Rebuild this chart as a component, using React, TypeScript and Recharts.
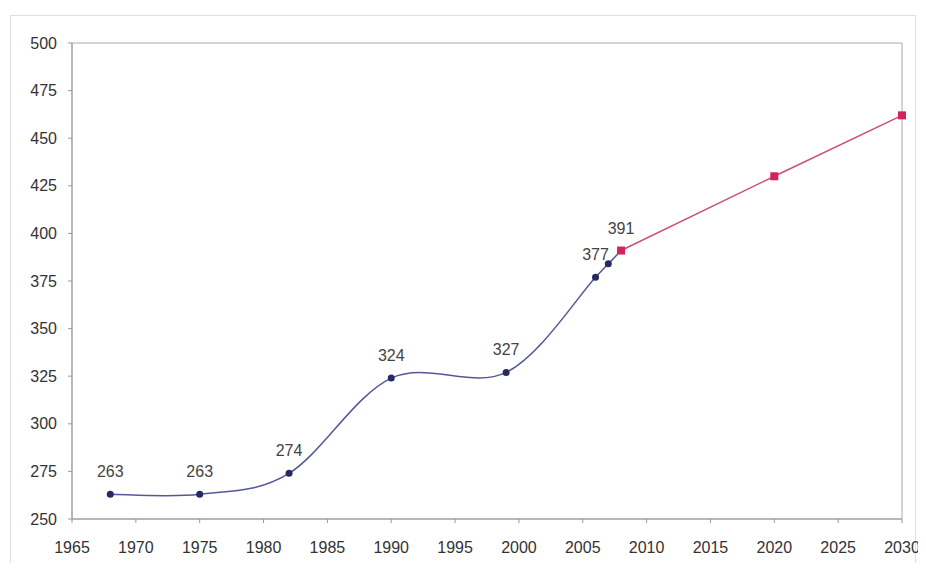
import React from 'react';
import { LineChart, Line, XAxis, YAxis, ReferenceArea, LabelList } from 'recharts';

// historic values (blue)
const histYears = [1968, 1975, 1982, 1990, 1999, 2006, 2007, 2008];
const histValues = [263, 263, 274, 324, 327, 377, 384, 391];
const histLabels = ['263', '263', '274', '324', '327', '377', '', ''];

// projection (red)
const projYears = [2008, 2020, 2030];
const projValues = [391, 430, 462];
const projLabels = ['391', '', ''];

const xTicks = [1965, 1970, 1975, 1980, 1985, 1990, 1995, 2000, 2005, 2010, 2015, 2020, 2025, 2030];
const yTicks = [250, 275, 300, 325, 350, 375, 400, 425, 450, 475, 500];

const histData = histYears.map((year, i) => ({ year, value: histValues[i], label: histLabels[i] }));
const projData = projYears.map((year, i) => ({ year, value: projValues[i], label: projLabels[i] }));

// smoothed line like the spreadsheet one (catmull-rom through the points)
const smoothCurve = (context: any) => {
    let pts: number[][] = [];
    return {
        areaStart() {},
        areaEnd() {},
        lineStart() {
            pts = [];
        },
        point(x: number, y: number) {
            pts.push([+x, +y]);
        },
        lineEnd() {
            if (!pts.length) return;
            context.moveTo(pts[0][0], pts[0][1]);
            for (let i = 0; i < pts.length - 1; i++) {
                const p0 = pts[i - 1] || pts[i];
                const p1 = pts[i];
                const p2 = pts[i + 1];
                const p3 = pts[i + 2] || pts[i + 1];
                context.bezierCurveTo(
                    p1[0] + (p2[0] - p0[0]) / 6,
                    p1[1] + (p2[1] - p0[1]) / 6,
                    p2[0] - (p3[0] - p1[0]) / 6,
                    p2[1] - (p3[1] - p1[1]) / 6,
                    p2[0],
                    p2[1]
                );
            }
        },
    };
};

const SquareDot = (props: any) => {
    const { cx, cy } = props;
    if (cx == null || cy == null) return null;
    return <rect x={cx - 4} y={cy - 4} width={8} height={8} fill="#d2245a" />;
};

const RoundDot = (props: any) => {
    const { cx, cy } = props;
    if (cx == null || cy == null) return null;
    return <circle cx={cx} cy={cy} r={3.5} fill="#262a60" />;
};

const tickStyle = { fill: '#333', fontSize: 16 };

const App: React.FC = () => {
    return (
        <div style={{ position: 'relative', width: 918, height: 555 }}>
            <div
                style={{
                    position: 'absolute',
                    left: 2,
                    top: 7,
                    width: 906,
                    height: 548,
                    border: '1px solid #e0e0e0',
                    borderBottom: 'none',
                    boxSizing: 'border-box',
                }}
            />
            <LineChart
                width={918}
                height={555}
                margin={{ top: 35, right: 24, left: 8, bottom: 14 }}
                style={{ fontFamily: '"Liberation Sans", Arial, sans-serif', position: 'absolute', left: 0, top: 0 }}
            >
                <XAxis
                    dataKey="year"
                    type="number"
                    domain={[1965, 2030]}
                    ticks={xTicks}
                    height={30}
                    tick={tickStyle}
                    tickSize={4}
                    tickMargin={19}
                    stroke="#999"
                    allowDuplicatedCategory={false}
                />
                <YAxis
                    type="number"
                    domain={[250, 500]}
                    ticks={yTicks}
                    width={56}
                    tick={tickStyle}
                    tickSize={4}
                    tickMargin={11}
                    stroke="#999"
                />
                <ReferenceArea x1={1965} x2={2030} y1={250} y2={500} fill="none" stroke="#aaa" strokeOpacity={1} />
                <Line
                    data={histData}
                    dataKey="value"
                    type={smoothCurve as any}
                    stroke="#545897"
                    strokeWidth={1.5}
                    dot={<RoundDot />}
                    activeDot={false}
                    isAnimationActive={false}
                >
                    <LabelList dataKey="label" position="top" offset={17} fill="#444" fontSize={16} />
                </Line>
                <Line
                    data={projData}
                    dataKey="value"
                    type="linear"
                    stroke="#cc4f76"
                    strokeWidth={1.5}
                    dot={<SquareDot />}
                    activeDot={false}
                    isAnimationActive={false}
                >
                    <LabelList dataKey="label" position="top" offset={17} fill="#444" fontSize={16} />
                </Line>
            </LineChart>
        </div>
    );
};

export default App;
